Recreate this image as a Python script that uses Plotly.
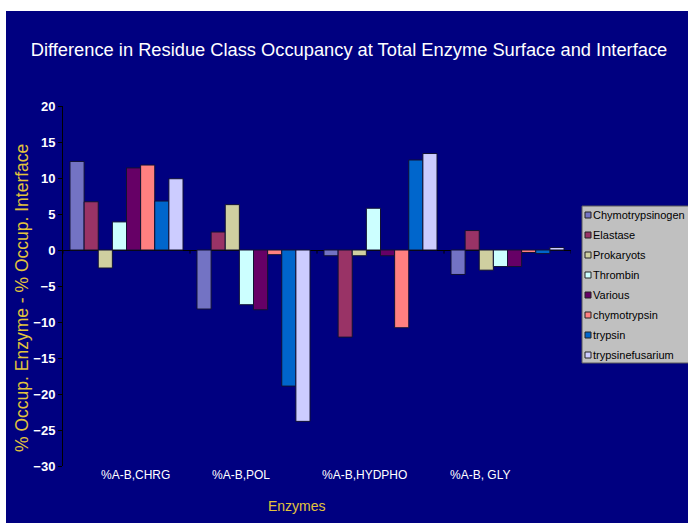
import plotly.graph_objects as go

# Residue classes on the category axis
categories = ["%A-B,CHRG", "%A-B,POL", "%A-B,HYDPHO", "%A-B, GLY"]

# % occupancy (enzyme) minus % occupancy (interface), per enzyme family
chymotrypsinogen = [12.3, -8.2, -0.8, -3.4]
elastase = [6.7, 2.5, -12.1, 2.7]
prokaryots = [-2.5, 6.3, -0.8, -2.8]
thrombin = [3.9, -7.6, 5.8, -2.3]
various = [11.4, -8.3, -0.8, -2.3]
chymotrypsin = [11.8, -0.65, -10.8, -0.35]
trypsin = [6.8, -18.9, 12.5, -0.5]
trypsinefusarium = [9.9, -23.8, 13.4, 0.35]

series = [
    ("Chymotrypsinogen", chymotrypsinogen, "#7373C4"),
    ("Elastase", elastase, "#993366"),
    ("Prokaryots", prokaryots, "#CFCFA0"),
    ("Thrombin", thrombin, "#CCFFFF"),
    ("Various", various, "#660066"),
    ("chymotrypsin", chymotrypsin, "#FF8080"),
    ("trypsin", trypsin, "#0066CC"),
    ("trypsinefusarium", trypsinefusarium, "#CCCCFF"),
]

NAVY = "#000080"
GOLD = "#E2C43C"
FONT = "Liberation Sans, Arial, sans-serif"

fig = go.Figure()
for name, vals, color in series:
    fig.add_trace(go.Bar(
        x=categories, y=vals, name=name,
        marker=dict(color=color, line=dict(color="#111133", width=1)),
    ))

# plot area in pixels: x 63..571, y 106..466
L, R, T, B = 63, 117, 106, 57
W, H = 688, 523
pw, ph = W - L - R, H - T - B

def px_x(p):
    return (p - L) / pw

def px_y(p):
    return (H - B - p) / ph

shapes = [
    # white border strips on the top and left edges
    dict(type="rect", xref="paper", yref="paper", x0=px_x(-5), x1=px_x(6),
         y0=px_y(H + 5), y1=px_y(-5), fillcolor="white", line=dict(width=0), layer="below"),
    dict(type="rect", xref="paper", yref="paper", x0=px_x(-5), x1=px_x(W + 5),
         y0=px_y(11), y1=px_y(-5), fillcolor="white", line=dict(width=0), layer="below"),
]

# small tick marks on the zero line between category groups
for k in range(len(categories) + 1):
    shapes.append(dict(
        type="line", xref="x", yref="y", x0=k - 0.5, x1=k - 0.5, y0=0, y1=-0.5,
        line=dict(color="black", width=1), layer="above",
    ))

annotations = []

# hand-built legend box: grey panel, small swatches, black labels
LEG_X, LEG_TOP, LEG_BOT = 582, 206, 363
shapes.append(dict(
    type="rect", xref="paper", yref="paper",
    x0=px_x(LEG_X), x1=px_x(W + 10), y0=px_y(LEG_BOT), y1=px_y(LEG_TOP),
    fillcolor="#C0C0C0", line=dict(color="#5A5A5A", width=1), layer="above",
))
for i, (name, _, color) in enumerate(series):
    cy = 215 + 20 * i
    shapes.append(dict(
        type="rect", xref="paper", yref="paper",
        x0=px_x(585), x1=px_x(591), y0=px_y(cy + 3), y1=px_y(cy - 3),
        fillcolor=color, line=dict(color="#222222", width=1), layer="above",
    ))
    annotations.append(dict(
        x=px_x(591), xref="paper", y=px_y(cy), yref="paper", text=name,
        showarrow=False, xanchor="left", yanchor="middle",
        font=dict(family=FONT, size=11, color="black"),
    ))

label_shift = [9, -13, -16, -28]
for cat, dx in zip(categories, label_shift):
    annotations.append(dict(
        x=cat, xref="x", y=px_y(475), yref="paper", text=cat, showarrow=False,
        xshift=dx, font=dict(family=FONT, size=12, color="white"),
        xanchor="center", yanchor="middle",
    ))
annotations.append(dict(
    x=px_x(297), xref="paper", y=px_y(506), yref="paper", text="Enzymes",
    showarrow=False, font=dict(family=FONT, size=14, color=GOLD),
    xanchor="center", yanchor="middle",
))
annotations.append(dict(
    x=px_x(22), xref="paper", y=px_y(298), yref="paper",
    text="% Occup. Enzyme - % Occup. Interface", textangle=-90,
    showarrow=False, font=dict(family=FONT, size=17.5, color=GOLD),
    xanchor="center", yanchor="middle",
))

fig.update_layout(
    width=W, height=H,
    margin=dict(l=L, r=R, t=T, b=B, autoexpand=False),
    paper_bgcolor=NAVY, plot_bgcolor=NAVY,
    barmode="group", bargap=0.11, bargroupgap=0,
    title=dict(
        text="Difference in Residue Class Occupancy at Total Enzyme Surface and Interface",
        x=349 / W, xref="container", xanchor="center",
        y=1 - 50 / H, yref="container", yanchor="middle",
        font=dict(family=FONT, size=18.3, color="white"),
    ),
    xaxis=dict(
        showticklabels=False, showline=False, showgrid=False, ticks="",
        range=[-0.5, 3.5],
    ),
    yaxis=dict(
        range=[-30, 20], dtick=5, showgrid=False,
        showline=True, linecolor="black", linewidth=1,
        ticks="outside", ticklen=4, tickcolor="black",
        zeroline=True, zerolinecolor="black", zerolinewidth=1,
        tickfont=dict(family=FONT, size=13, color="white", weight="bold"),
    ),
    shapes=shapes,
    annotations=annotations,
    showlegend=False,
)

fig.write_html("out.html")
